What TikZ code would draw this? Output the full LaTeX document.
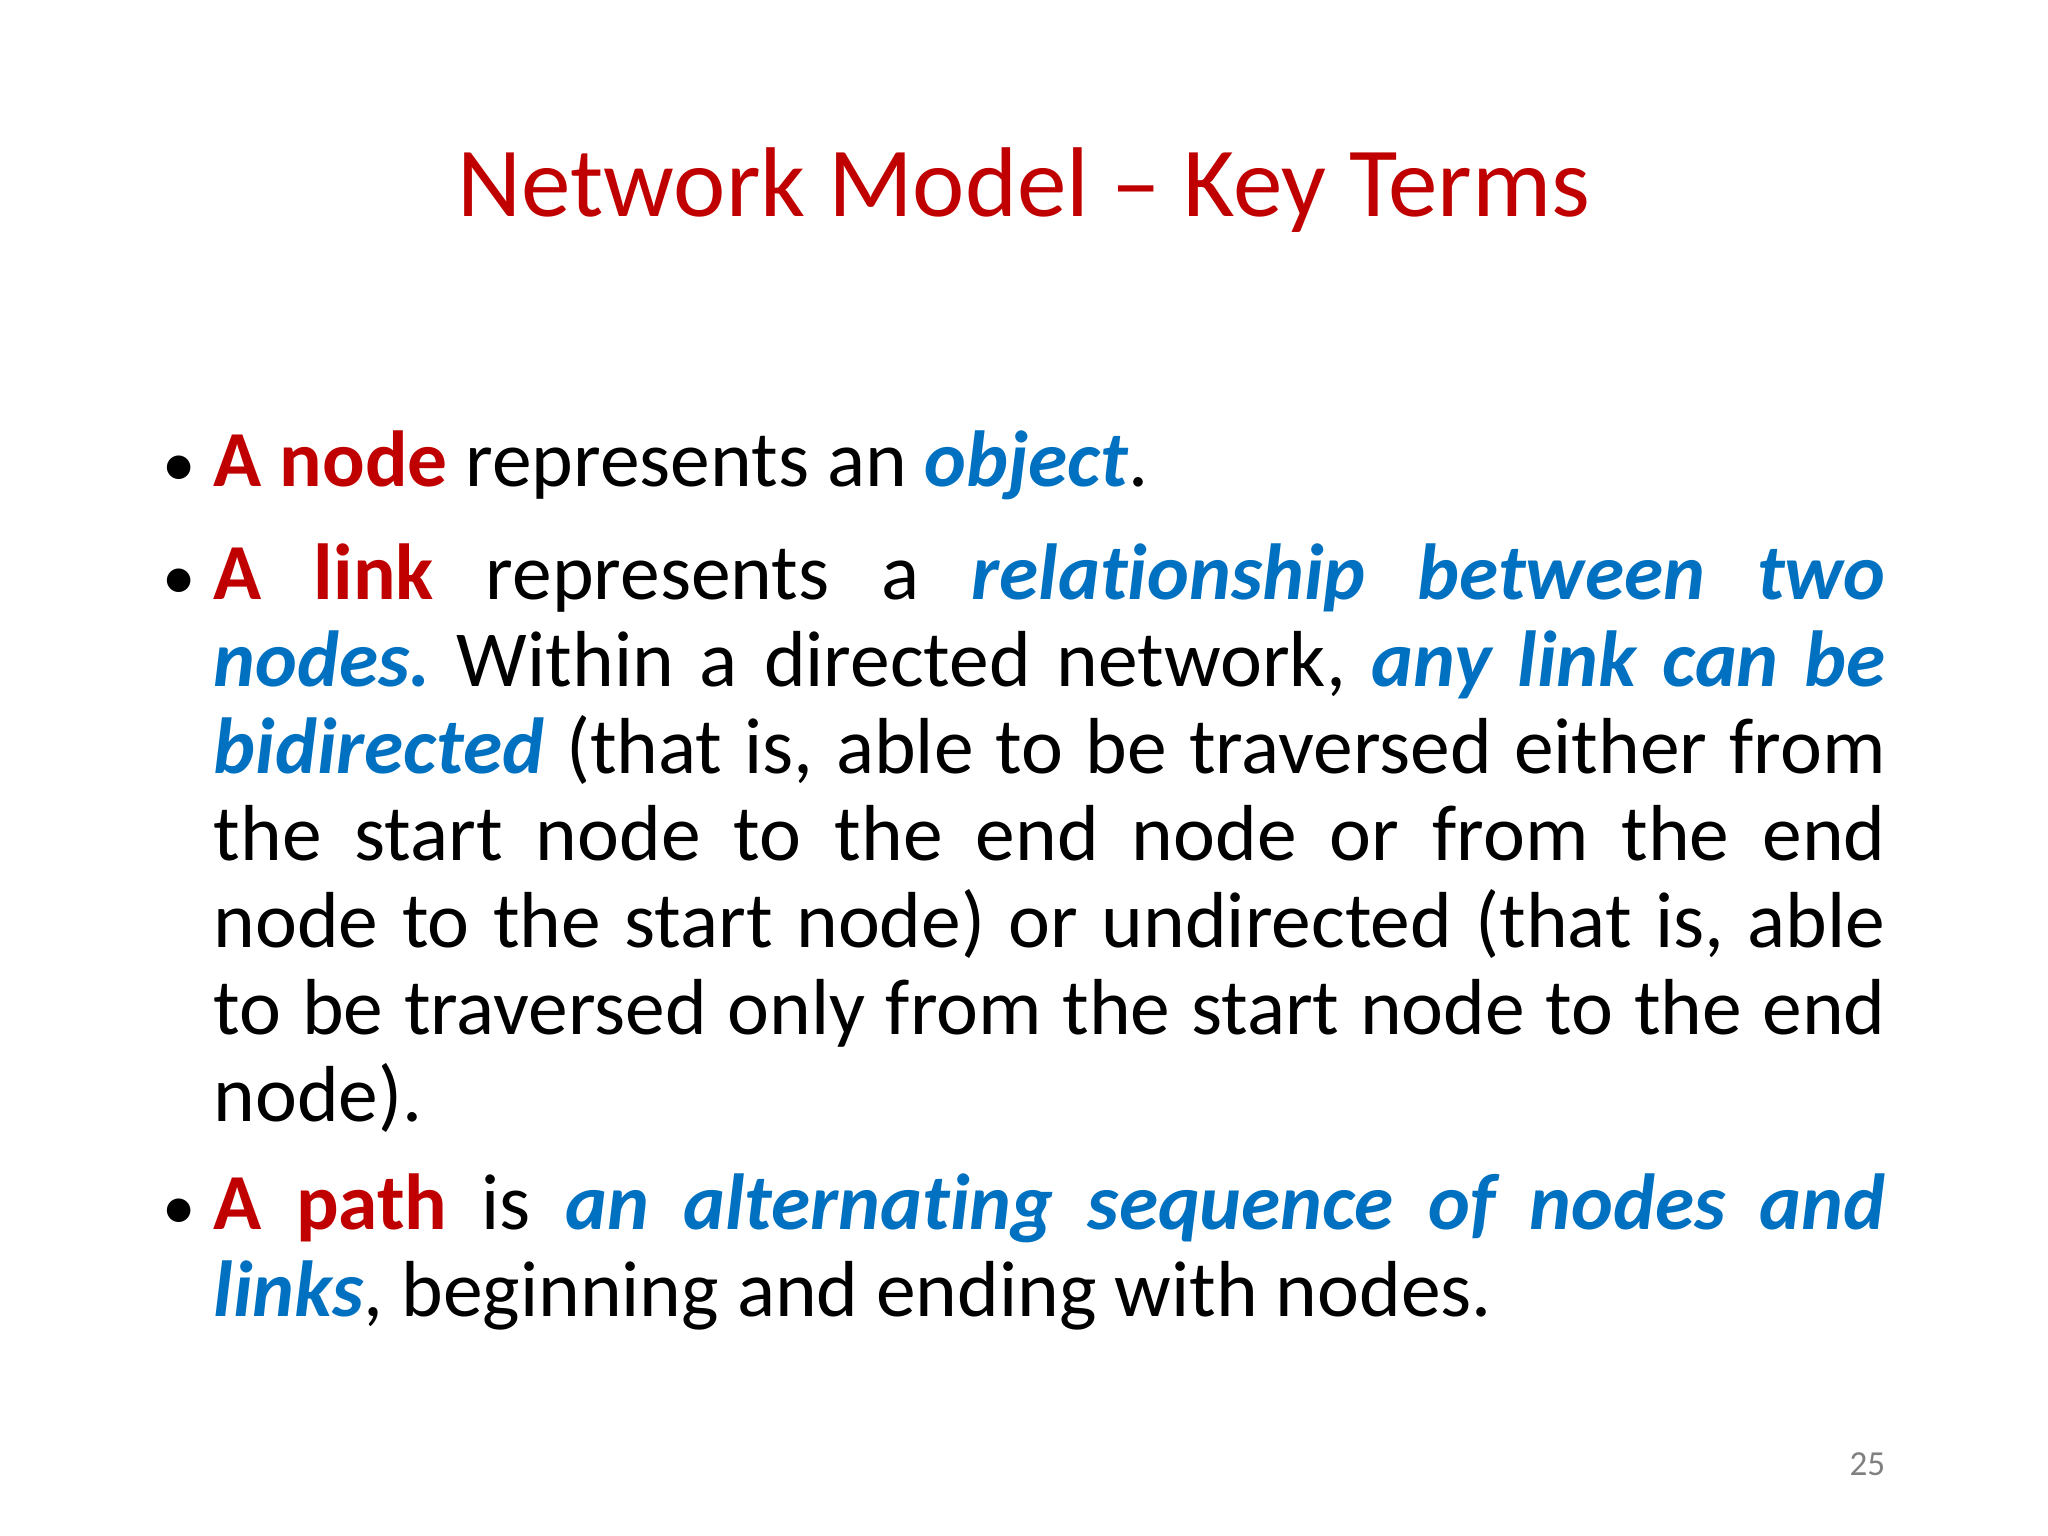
\documentclass[tikz,border=0pt]{standalone}
\usepackage{fontspec}
\setmainfont{Carlito}[RawFeature=-liga]
\definecolor{tred}{HTML}{C00000}
\definecolor{tblue}{HTML}{0070C0}
\tikzset{txt/.style={inner sep=0pt, anchor=base west}}
\newcommand{\rd}[1]{\textcolor{tred}{\textbf{#1}}}
\newcommand{\bl}[1]{\textcolor{tblue}{\textbf{\textit{#1}}}}
\newcommand{\body}[1]{\parbox[t]{16.72cm}{\fontsize{22.6}{24.8}\selectfont\frenchspacing\hyphenpenalty=10000\tolerance=9999\emergencystretch=2em\parindent=0pt #1}}
\begin{document}
\begin{tikzpicture}
\useasboundingbox[fill=white] (0,0) rectangle (20.48,-15.36);
\node[inner sep=0pt, anchor=base, text=tred, font=\fontsize{28.2}{32}\selectfont] (title) at (10.24,-2.17) {Network Model – Key Terms};
\node[txt, font=\fontsize{19}{20}\selectfont] (b1) at (1.62,-4.86) {•};
\node[txt] (p1) at (2.13,-4.86) {\body{\rd{A node} represents an \bl{object}.}};
\node[txt, font=\fontsize{19}{20}\selectfont] (b2) at (1.62,-5.99) {•};
\node[txt] (p2) at (2.13,-5.99) {\body{\rd{A link} represents a \bl{relationship between two}\linebreak \bl{nodes.} Within a directed network, \bl{any link can be}\linebreak \bl{bidirected} (that is, able to be traversed either from\linebreak the start node to the end node or from the end\linebreak node to the start node) or undirected (that is, able\linebreak to be traversed only from the start node to the end\linebreak node).}};
\node[txt, font=\fontsize{19}{20}\selectfont] (b3) at (1.62,-12.29) {•};
\node[txt] (p3) at (2.13,-12.29) {\body{\rd{A path} is \bl{an alternating sequence of nodes and}\linebreak \bl{links}, beginning and ending with nodes.}};
\node[inner sep=0pt, anchor=base east, text=black!50, font=\fontsize{10}{12}\selectfont] (pg) at (18.86,-14.75) {25};
\end{tikzpicture}
\end{document}
